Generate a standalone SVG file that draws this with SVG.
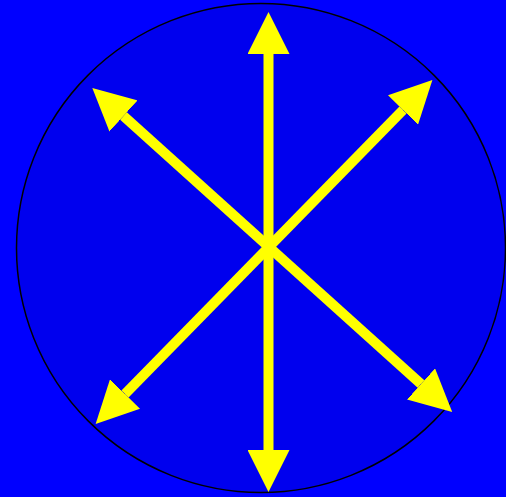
<svg xmlns="http://www.w3.org/2000/svg" width="506" height="497" viewBox="0 0 506 497">
<defs>
<marker id="head" markerUnits="userSpaceOnUse" markerWidth="42" markerHeight="42" viewBox="0 0 42 42" refX="0" refY="21" orient="auto-start-reverse">
<path d="M0,0 L42,21 L0,42 z" fill="#FFFF00"/>
</marker>
<style>
.arrow{stroke:#FFFF00;stroke-width:10;fill:none;marker-start:url(#head);marker-end:url(#head)}
</style>
</defs>
<rect x="0" y="0" width="506" height="497" fill="#0000FF"/>
<g id="disc">
<circle cx="261" cy="248" r="244.5" fill="#0000EE" stroke="#000000" stroke-width="1.5"/>
</g>
<g id="connectors">
<line class="arrow" x1="268.5" y1="54" x2="268.5" y2="450"/>
<line class="arrow" x1="123.5" y1="116" x2="421" y2="384"/>
<line class="arrow" x1="403" y1="110" x2="125" y2="394"/>
</g>
</svg>
